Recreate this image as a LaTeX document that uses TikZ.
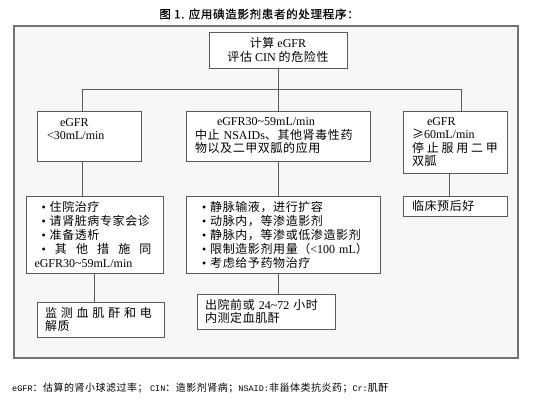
\documentclass[tikz,border=0pt]{standalone}
\usepackage{fontspec}
\setmainfont{Liberation Serif}
\newfontfamily\cjk[Scale=1.0,LetterSpace=5]{Noto Sans CJK SC}
\newfontfamily\cjktitle[Scale=1.0,LetterSpace=6,FakeBold=0.3]{Noto Sans CJK SC}
\newfontfamily\monofont{Liberation Mono}
\newcommand\zh[1]{{\cjk #1}}
\newcommand\mono[1]{{\fontsize{8.5}{11}\selectfont\monofont #1}}
\newcommand\spreadline[1]{\leavevmode\hbox to \linewidth{#1}}
\begin{document}
\begin{tikzpicture}[x=1pt,y=-1pt,
  box/.style={draw=black!65,line width=0.8pt,fill=white,inner sep=0pt,align=left,
              font=\fontsize{12}{13.5}\selectfont},
  listbox/.style={box,font=\fontsize{12}{14}\selectfont},
  link/.style={draw=black!65,line width=0.9pt},
  frame/.style={fill=black!3,draw=black!55,line width=1.5pt}]
\useasboundingbox (0,0) rectangle (548,403);
\fill[white] (0,0) rectangle (548,403);
\draw[frame] (14,26) rectangle (518,358);

\node[font=\fontsize{11.5}{13}\selectfont] (title) at (259,14) {{\cjktitle 图 1. 应用碘造影剂患者的处理程序：}};

\node[box,align=center,minimum width=138pt,minimum height=36pt] (calc) at (278,50)
  {\zh{计算} eGFR\\\zh{评估} CIN \zh{的危险性}};

\node[box,minimum width=104pt,minimum height=50pt,text width=90pt] (l1) at (89,136)
  {\hspace*{16pt}eGFR\\\hspace*{3pt}<30mL/min\\\mbox{}};

\node[box,minimum width=184pt,minimum height=50pt,text width=166pt] (c1) at (278,136)
  {\hspace*{22pt}eGFR30\textasciitilde59mL/min\\\mbox{\zh{中止} NSAIDs\zh{、其他肾毒性药}}\\\zh{物以及二甲双胍的应用}};

\node[box,minimum width=104pt,minimum height=62pt,text width=86pt] (r1) at (455,142)
  {\hspace*{15pt}eGFR\\\zh{≥}60mL/min\\\spreadline{\zh{停}\hfill\zh{止}\hfill\zh{服}\hfill\zh{用}\hfill\zh{二}\hfill\zh{甲}}\\\zh{双胍}};

\node[box,minimum width=104pt,minimum height=20pt,text width=86pt] (r2) at (455,206)
  {\zh{临床预后好}};

\node[listbox,minimum width=137pt,minimum height=77pt,text width=120pt] (l2) at (94.5,234.5)
  {\mbox{\hspace*{7pt}• \zh{住院治疗}}\\
   \mbox{\hspace*{7pt}• \zh{请肾脏病专家会诊}}\\
   \mbox{\hspace*{7pt}• \zh{准备透析}}\\
   \spreadline{\hspace*{7pt}•\hfill\zh{其}\hfill\zh{他}\hfill\zh{措}\hfill\zh{施}\hfill\zh{同}\hspace*{3pt}}\\
   eGFR30\textasciitilde59mL/min};

\node[box,minimum width=127pt,minimum height=35pt,text width=111pt] (l3) at (100.5,319.5)
  {\spreadline{\zh{监}\hfill\zh{测}\hfill\zh{血}\hfill\zh{肌}\hfill\zh{酐}\hfill\zh{和}\hfill\zh{电}\hspace*{4pt}}\\\zh{解质}};

\node[listbox,minimum width=194pt,minimum height=77pt,text width=174pt] (c2) at (283,234.5)
  {\mbox{\hspace*{6pt}• \zh{静脉输液，进行扩容}}\\
   \mbox{\hspace*{6pt}• \zh{动脉内，等渗造影剂}}\\
   \mbox{\hspace*{6pt}• \zh{静脉内，等渗或低渗造影剂}}\\
   \mbox{\hspace*{6pt}• \zh{限制造影剂用量（}<100 mL\zh{）}}\\
   \mbox{\hspace*{6pt}• \zh{考虑给予药物治疗}}};

\node[box,minimum width=138pt,minimum height=35pt,text width=122pt,font=\fontsize{12}{12.5}\selectfont] (c3) at (266,311.5)
  {\mbox{\zh{出院前或} 24\textasciitilde72 \zh{小时}}\\\zh{内测定血肌酐}};

\coordinate (jc) at (278,89);
\coordinate (jl) at (82,89);
\coordinate (jr) at (461,89);
\coordinate (rx) at (449,185);
\draw[link] (calc.south) -- (jc);
\draw[link] (jl) -- (jr);
\draw[link] (jl) -- (jl |- l1.north);
\draw[link] (jc) -- (c1.north);
\draw[link] (jr) -- (jr |- r1.north);
\draw[link] (l1.south -| jl) -- (l2.north -| jl);
\draw[link] (l2.south) -- (l2.south |- l3.north);
\draw[link] (c1.south) -- (c1.south |- c2.north);
\draw[link] (c2.south -| c1.south) -- (c3.north -| c1.south);
\draw[link] (r1.south -| rx) -- (r2.north -| rx);

\node[anchor=west,inner sep=0pt,font=\fontsize{10}{11}\selectfont] (note) at (12,388)
  {\mono{eGFR}\zh{：估算的肾小球滤过率；} \mono{CIN}\zh{：造影剂肾病；}\mono{NSAID:}\zh{非甾体类抗炎药；}\mono{Cr:}\zh{肌酐}};
\end{tikzpicture}
\end{document}
